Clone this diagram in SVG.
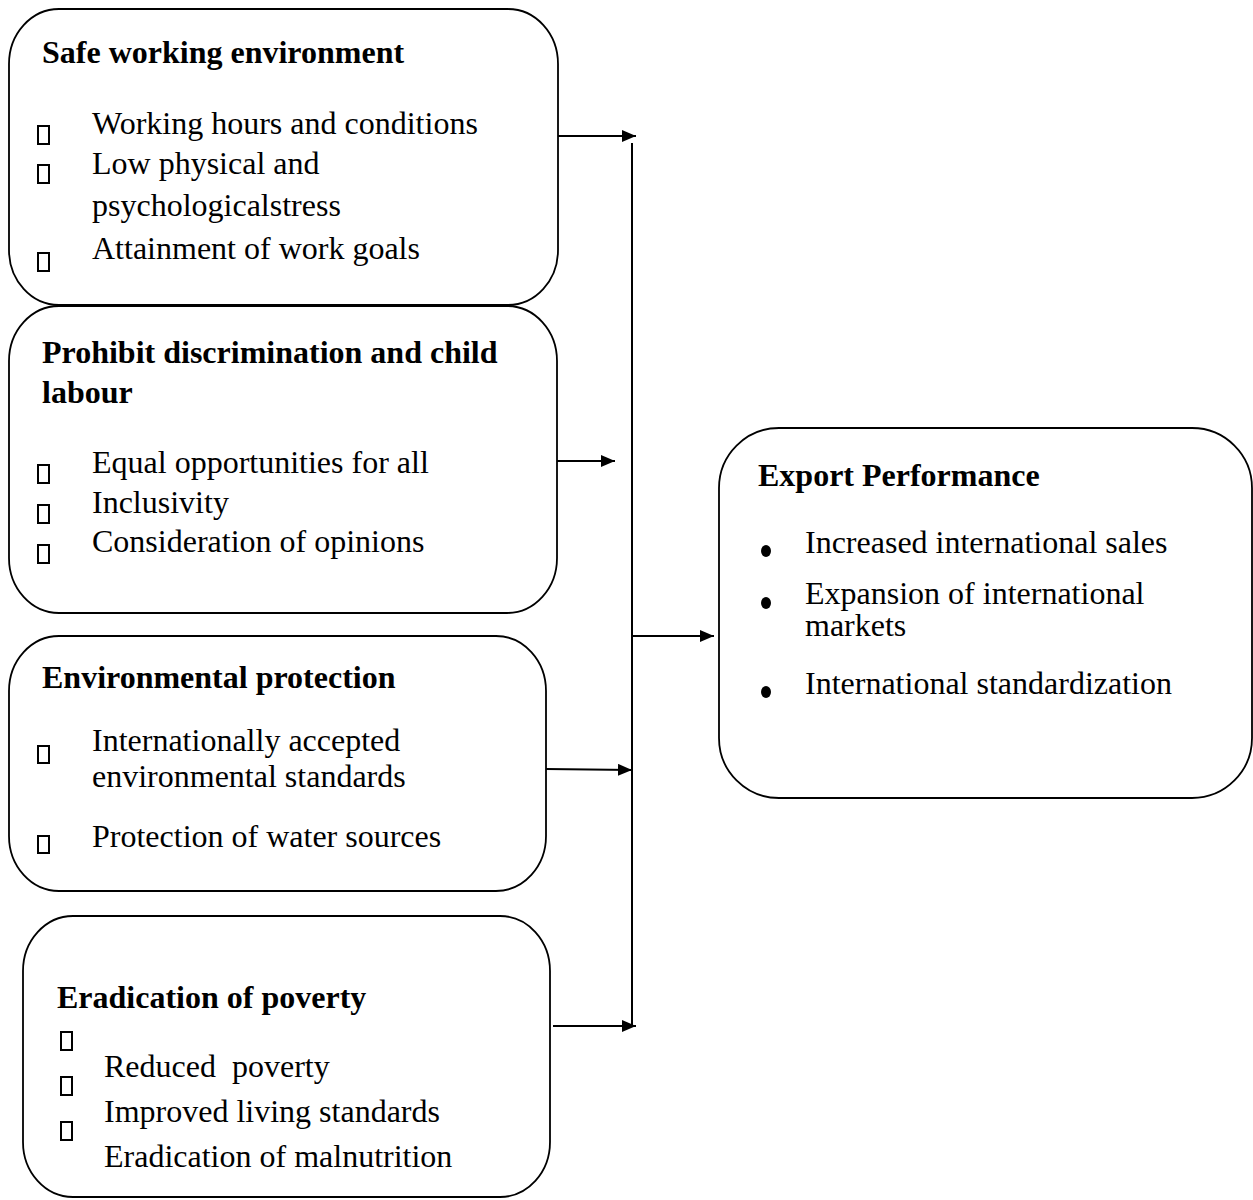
<svg xmlns="http://www.w3.org/2000/svg" width="1253" height="1200" viewBox="0 0 1253 1200">
<style>
.box{fill:#fff;stroke:#000;stroke-width:1.8}
.h{font-family:"Liberation Serif","Times New Roman",serif;font-weight:bold;font-size:32px;fill:#000}
.t{font-family:"Liberation Serif","Times New Roman",serif;font-size:32px;fill:#000}
.sq{fill:none;stroke:#000;stroke-width:2}
.ln{stroke:#000;stroke-width:2;fill:none}
</style>
<defs>
<marker id="ah" markerWidth="14" markerHeight="12" refX="14" refY="6" orient="auto" markerUnits="userSpaceOnUse" viewBox="0 0 14 12">
<path d="M0,0 L14,6 L0,12 z" fill="#000"/>
</marker>
</defs>
<g id="node-safe">
<rect class="box" x="9" y="9" width="549" height="296" rx="50" ry="55"/>
<text class="h" x="42" y="63">Safe working environment</text>
<rect class="sq" x="38" y="126" width="11" height="18"/>
<rect class="sq" x="38" y="165" width="11" height="18"/>
<rect class="sq" x="38" y="253" width="11" height="18"/>
<text class="t" x="92" y="134">Working hours and conditions</text>
<text class="t" x="92" y="174">Low physical and</text>
<text class="t" x="92" y="216">psychologicalstress</text>
<text class="t" x="92" y="259">Attainment of work goals</text>
</g>
<g id="node-prohibit">
<rect class="box" x="9" y="306" width="548" height="307" rx="50" ry="55"/>
<text class="h" x="42" y="363">Prohibit discrimination and child</text>
<text class="h" x="42" y="403">labour</text>
<rect class="sq" x="38" y="465" width="11" height="18"/>
<rect class="sq" x="38" y="505" width="11" height="18"/>
<rect class="sq" x="38" y="545" width="11" height="18"/>
<text class="t" x="92" y="473">Equal opportunities for all</text>
<text class="t" x="92" y="513">Inclusivity</text>
<text class="t" x="92" y="552">Consideration of opinions</text>
</g>
<g id="node-env">
<rect class="box" x="9" y="636" width="537" height="255" rx="50" ry="55"/>
<text class="h" x="42" y="688">Environmental protection</text>
<rect class="sq" x="38" y="746" width="11" height="17"/>
<rect class="sq" x="38" y="836" width="11" height="17"/>
<text class="t" x="92" y="751">Internationally accepted</text>
<text class="t" x="92" y="787">environmental standards</text>
<text class="t" x="92" y="847">Protection of water sources</text>
</g>
<g id="node-poverty">
<rect class="box" x="23" y="916" width="527" height="281" rx="50" ry="55"/>
<text class="h" x="57" y="1008">Eradication of poverty</text>
<rect class="sq" x="61" y="1032" width="11" height="18"/>
<rect class="sq" x="61" y="1077" width="11" height="18"/>
<rect class="sq" x="61" y="1122" width="11" height="18"/>
<text class="t" x="104" y="1077" xml:space="preserve">Reduced  poverty</text>
<text class="t" x="104" y="1122">Improved living standards</text>
<text class="t" x="104" y="1167">Eradication of malnutrition</text>
</g>
<g id="node-export">
<rect class="box" x="719" y="428" width="533" height="370" rx="60" ry="60"/>
<text class="h" x="758" y="486">Export Performance</text>
<ellipse cx="766" cy="551" rx="5" ry="6"/>
<ellipse cx="766" cy="603" rx="5" ry="6"/>
<ellipse cx="766" cy="692" rx="5" ry="6"/>
<text class="t" x="805" y="553">Increased international sales</text>
<text class="t" x="805" y="604">Expansion of international</text>
<text class="t" x="805" y="636">markets</text>
<text class="t" x="805" y="694">International standardization</text>
</g>
<g id="connectors">
<line class="ln" x1="632" y1="143" x2="632" y2="1027"/>
<line class="ln" x1="558" y1="136" x2="636" y2="136" marker-end="url(#ah)"/>
<line class="ln" x1="557" y1="461" x2="615" y2="461" marker-end="url(#ah)"/>
<line class="ln" x1="546" y1="769" x2="632" y2="770" marker-end="url(#ah)"/>
<line class="ln" x1="553" y1="1026" x2="636" y2="1026" marker-end="url(#ah)"/>
<line class="ln" x1="632" y1="636" x2="714" y2="636" marker-end="url(#ah)"/>
</g>
</svg>
